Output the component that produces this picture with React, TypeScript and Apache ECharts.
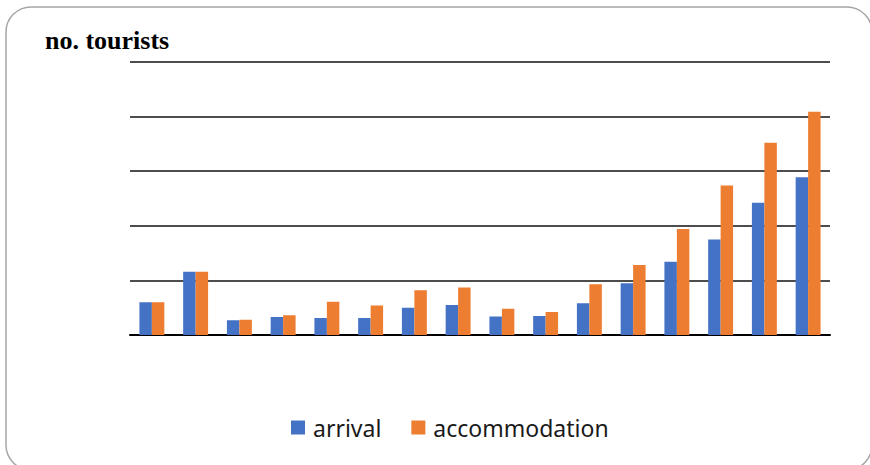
import React, { useEffect, useRef } from "react";
import * as echarts from "echarts";

const categories = ["1","2","3","4","5","6","7","8","9","10","11","12","13","14","15","16"];
const arrival = [0.60, 1.16, 0.27, 0.33, 0.31, 0.31, 0.50, 0.55, 0.34, 0.35, 0.58, 0.95, 1.34, 1.75, 2.42, 2.89];
const accommodation = [0.60, 1.16, 0.28, 0.36, 0.61, 0.54, 0.82, 0.87, 0.48, 0.42, 0.93, 1.28, 1.94, 2.74, 3.52, 4.09];
const seriesNames = ["arrival", "accommodation"];
const titleText = "no. tourists";

export default function App() {
  const ref = useRef<HTMLDivElement>(null);
  useEffect(() => {
    if (!ref.current) return;
    const chart = echarts.init(ref.current, undefined, { renderer: "svg" });
    chart.setOption({
      animation: false,
      backgroundColor: "#ffffff",
      title: {
        text: titleText,
        left: 40,
        top: 22,
        textStyle: { fontFamily: "Liberation Serif", fontWeight: "bold", fontSize: 26, color: "#000" },
      },
      graphic: [
        {
          type: "rect",
          shape: { x: 6, y: 7, width: 866, height: 463, r: 25 },
          style: { fill: "none", stroke: "#a6a6a6", lineWidth: 1.5 },
          silent: true,
          z: -1,
        },
      ],
      legend: {
        data: seriesNames,
        left: 286,
        top: 411,
        icon: "rect",
        itemWidth: 14,
        itemHeight: 14,
        itemGap: 30,
        textStyle: { fontFamily: "Noto Sans", fontSize: 23, color: "#1a1a1a", padding: [0, 0, 0, 3] },
      },
      grid: { left: 130, right: 40, top: 62, bottom: 130 },
      xAxis: {
        type: "category",
        data: categories,
        axisLine: { show: true, lineStyle: { color: "#000", width: 2 } },
        axisTick: { show: false },
        axisLabel: { show: false },
      },
      yAxis: {
        type: "value",
        min: 0,
        max: 5,
        interval: 1,
        axisLine: { show: false },
        axisTick: { show: false },
        axisLabel: { show: false },
        splitLine: { lineStyle: { color: "#4d4d4d", width: 2 } },
      },
      series: [
        {
          name: seriesNames[0],
          type: "bar",
          data: arrival,
          barWidth: "28.5%",
          barGap: "0%",
          itemStyle: { color: "#4472C4" },
        },
        {
          name: seriesNames[1],
          type: "bar",
          data: accommodation,
          barWidth: "28.5%",
          barGap: "0%",
          itemStyle: { color: "#ED7D31" },
        },
      ],
    });
    return () => chart.dispose();
  }, []);
  return <div ref={ref} style={{ position: "fixed", left: 0, top: 0, width: 870, height: 465 }} />;
}
